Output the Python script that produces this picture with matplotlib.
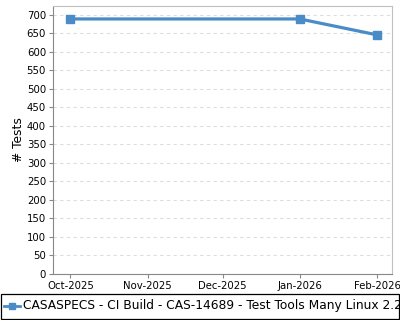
import matplotlib
matplotlib.use("Agg")
import matplotlib.pyplot as plt
from matplotlib.patches import Rectangle
from matplotlib.lines import Line2D
import datetime as dt

dates = [dt.date(2025, 10, 1), dt.date(2026, 1, 1), dt.date(2026, 2, 1)]
tests = [689, 689, 646]
tick_dates = [dt.date(2025, 10, 1), dt.date(2025, 11, 1), dt.date(2025, 12, 1),
              dt.date(2026, 1, 1), dt.date(2026, 2, 1)]
tick_labels = ["Oct-2025", "Nov-2025", "Dec-2025", "Jan-2026", "Feb-2026"]
series_name = "CASASPECS - CI Build - CAS-14689 - Test Tools Many Linux 2.28"
color = "#4a8cc8"

plt.rcParams['font.family'] = ['DejaVu Sans']
fig = plt.figure(figsize=(4, 3.2), dpi=100)
ax = fig.add_axes([53/400, 1-274/320, (392-53)/400, (274-6)/320])

ax.plot(dates, tests, color=color, lw=2.3, marker='s', markersize=5.5,
        solid_joinstyle='miter')

ax.set_xlim(dt.date(2025, 9, 24), dt.date(2026, 2, 7))
ax.set_ylim(0, 724)
ax.set_yticks(range(0, 701, 50))
ax.set_xticks(tick_dates)
ax.set_xticklabels(tick_labels)
ax.tick_params(labelsize=7.3, length=3, color='#888888', pad=2)
ax.yaxis.grid(True, linestyle=(0, (3, 3)), color='#dddddd', lw=0.8)
ax.set_axisbelow(True)
for s in ['left', 'bottom']:
    ax.spines[s].set_color('#888888')
for s in ['top', 'right']:
    ax.spines[s].set_color('#c0c0c0')
ax.set_ylabel("# Tests", fontsize=8.8)
ax.yaxis.set_label_coords((25 - 53) / 339, (274 - 140) / 268)

# legend box
fig.patches.append(Rectangle((1/400, 1-319/320), 398/400, 25/320,
                             transform=fig.transFigure, fill=False,
                             edgecolor='black', lw=0.9))
fig.lines.append(Line2D([4/400, 20/400], [1-306/320, 1-306/320],
                        transform=fig.transFigure, color=color, lw=2.0))
fig.lines.append(Line2D([12/400], [1-306/320], transform=fig.transFigure,
                        color=color, lw=0, marker='s', markersize=4.5))
fig.text(23/400, 1-306/320, series_name, fontsize=8.8, va='center', ha='left')

fig.savefig("out.png", dpi=100)
